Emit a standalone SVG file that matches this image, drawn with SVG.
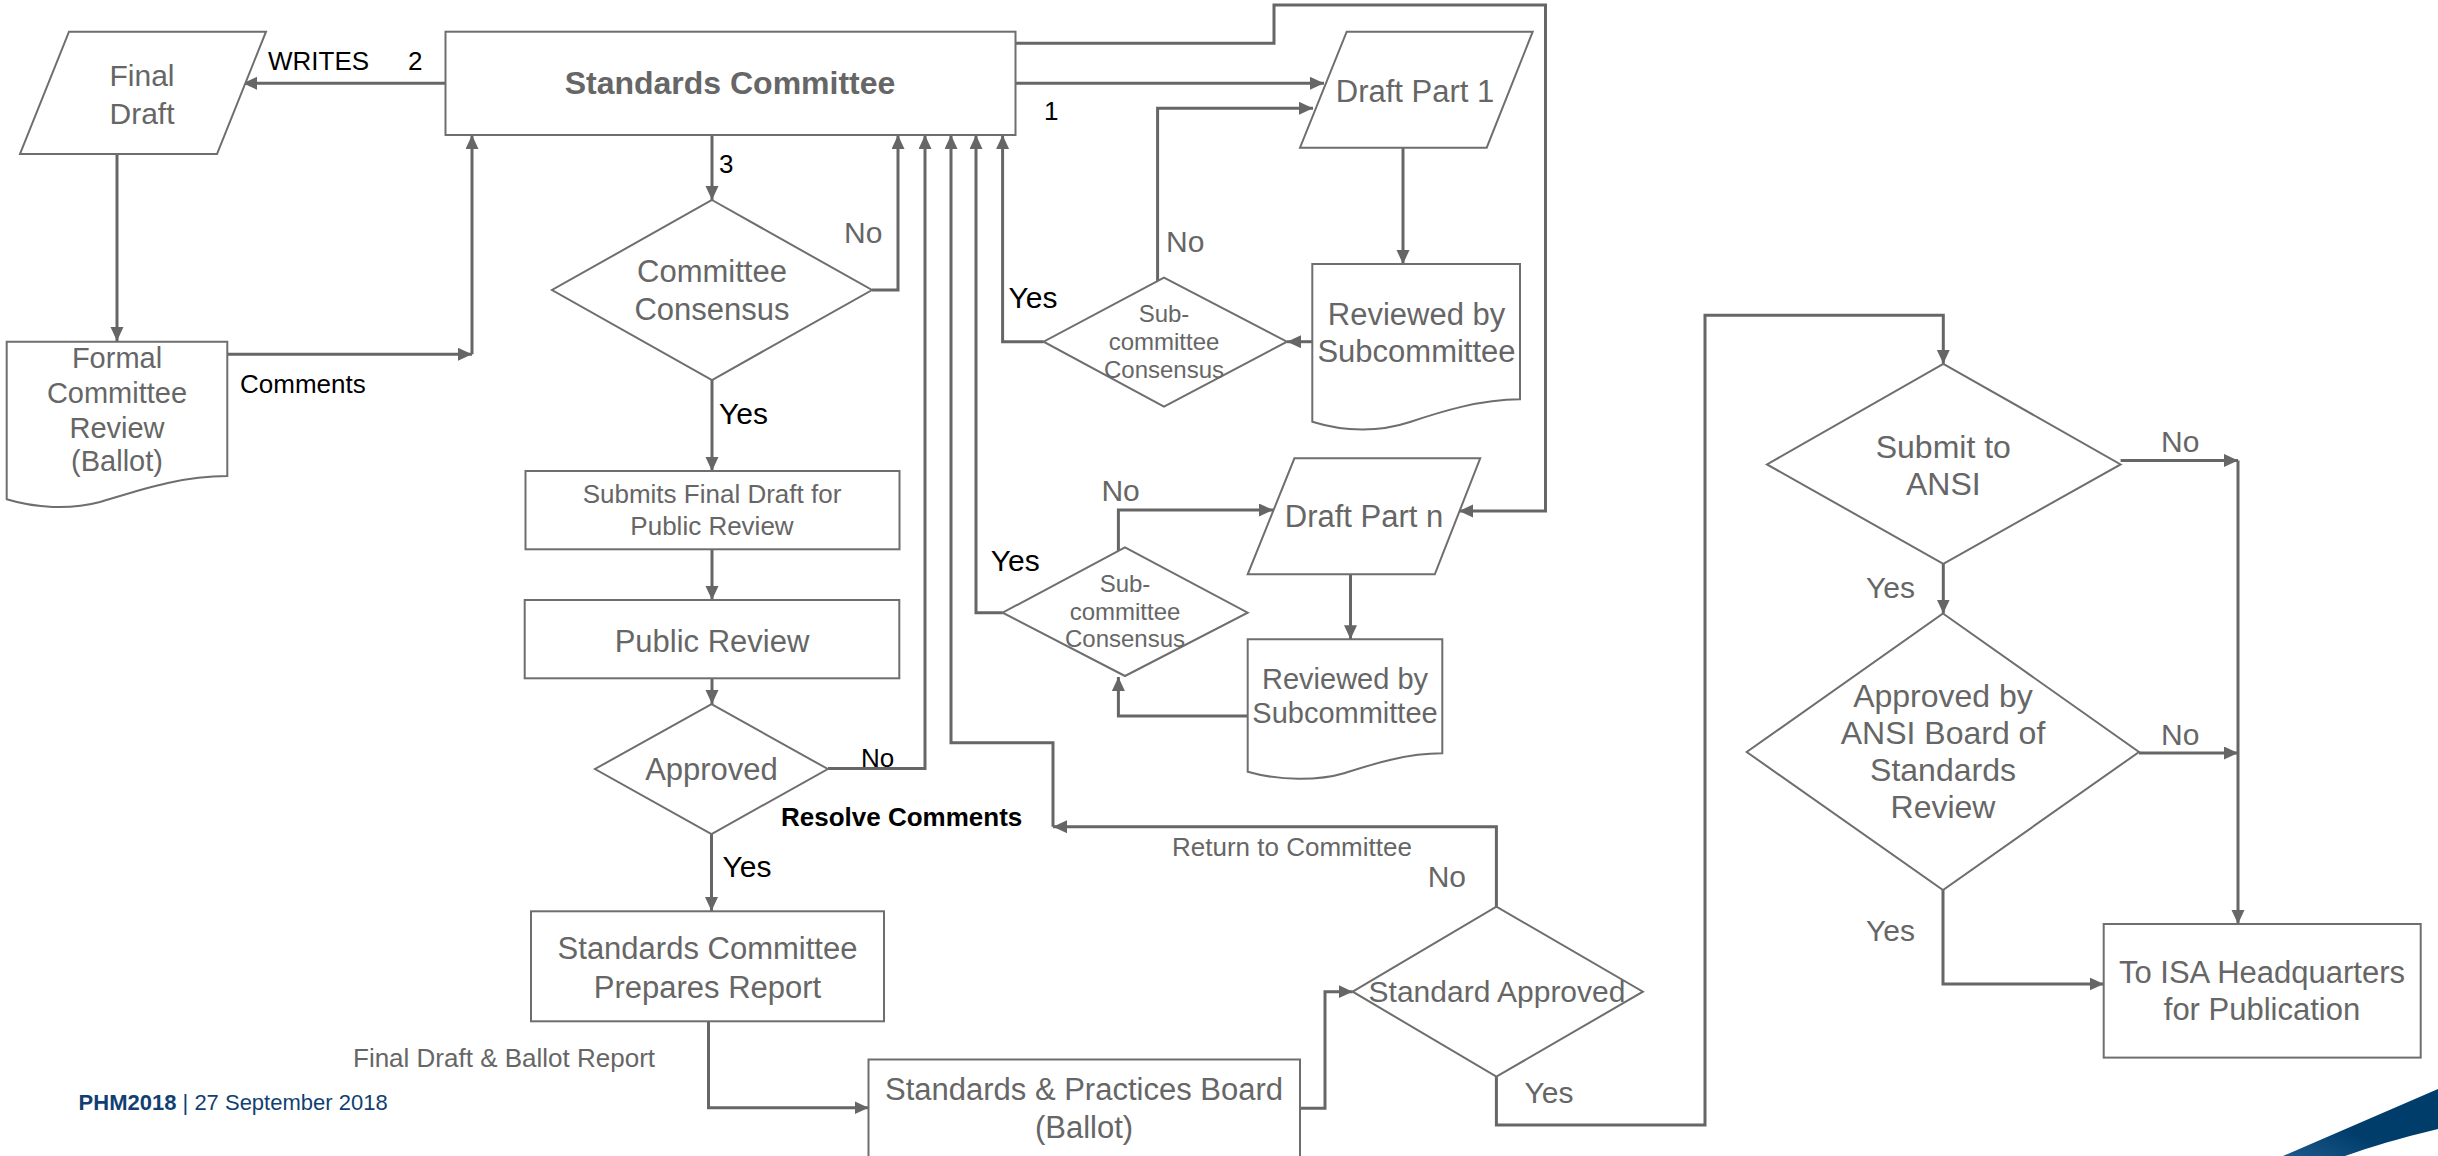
<svg xmlns="http://www.w3.org/2000/svg" width="2438" height="1156" viewBox="0 0 2438 1156">
<style>
.shape{fill:#fff;stroke:#6e6e6e;stroke-width:2}
.conn{fill:none;stroke:#666;stroke-width:3}
text{font-family:"Liberation Sans",Arial,sans-serif}
.t{fill:#666;font-size:31px;text-anchor:middle}
.ts{fill:#666;font-size:24px;text-anchor:middle}
.lb{fill:#000;font-size:26px}
.lbg{fill:#666;font-size:26px}
.yn{fill:#000;font-size:30px}
.yng{fill:#666;font-size:30px}
</style>
<defs>
<marker id="ah" markerWidth="15" markerHeight="14" refX="14" refY="6.5" orient="auto" markerUnits="userSpaceOnUse">
<path d="M0,0 L14,6.5 L0,13 z" fill="#666"/>
</marker>
<linearGradient id="sw" x1="0" y1="1" x2="1" y2="0">
<stop offset="0" stop-color="#1d5a8c"/>
<stop offset="0.4" stop-color="#003d6b"/>
<stop offset="1" stop-color="#003d6b"/>
</linearGradient>
</defs>
<rect width="2438" height="1156" fill="#fff"/>

<g id="connectors" class="conn" marker-end="url(#ah)">
<path d="M445.5,83.3 H243"/>
<path d="M1015.5,83.3 H1324"/>
<path d="M1015.5,43.3 H1274 V5 H1545.5 V511 H1459"/>
<path d="M712,135 V200"/>
<path d="M872,290 H898 V135"/>
<path d="M828,768.5 H925 V135"/>
<path d="M1053,826.7 V742.7 H951 V135"/>
<path d="M1002.6,612.7 H976 V135"/>
<path d="M1043.6,341.7 H1002.6 V135"/>
<path d="M117,154 V341"/>
<path d="M227.3,354.3 H472"/>
<path d="M472,354.3 V135"/>
<path d="M712,380 V471"/>
<path d="M712,549.3 V600"/>
<path d="M712,678.3 V704"/>
<path d="M711.5,834 V911"/>
<path d="M708.5,1021.3 V1107.8 H868.5"/>
<path d="M1300,1108.3 H1325 V991.7 H1352.7"/>
<path d="M1496.4,906.7 V826.7 H1053"/>
<path d="M1496.4,1076.7 V1125 H1705 V315.2 H1943.3 V363.8"/>
<path d="M2120.6,460.4 H2238"/>
<path d="M2238,460.4 V924"/>
<path d="M1943.3,563.8 V613.5"/>
<path d="M2139,753 H2238"/>
<path d="M1943,890 V984 H2103.7"/>
<path d="M1403,147.7 V264"/>
<path d="M1312.3,341.7 H1287"/>
<path d="M1157.6,281 V108.3 H1313"/>
<path d="M1350.5,574.3 V639.3"/>
<path d="M1247.7,716 H1118.4 V677"/>
<path d="M1118.4,551 V510 H1273"/>
</g>

<g id="final-draft">
<polygon class="shape" points="69,31.7 266,31.7 217,154 20,154"/>
<text class="t" x="142" y="86" style="font-size:30px">Final</text>
<text class="t" x="142" y="124" style="font-size:30px">Draft</text>
</g>

<g id="standards-committee">
<rect class="shape" x="445.5" y="31.7" width="570" height="103.3"/>
<text x="730" y="94" text-anchor="middle" font-weight="bold" font-size="32" fill="#666">Standards Committee</text>
</g>

<g id="formal-review">
<path class="shape" d="M6.7,341.7 H227.3 V476 C180,476 140,490 100,502 C70,510 35,508 6.7,499.3 Z"/>
<text class="t" x="117" y="368.3" style="font-size:29px">Formal</text>
<text class="t" x="117" y="403.3" style="font-size:29px">Committee</text>
<text class="t" x="117" y="438.3" style="font-size:29px">Review</text>
<text class="t" x="117" y="470.7" style="font-size:29px">(Ballot)</text>
</g>

<g id="committee-consensus">
<polygon class="shape" points="712,200 872,290 712,380 552,290"/>
<text class="t" x="712" y="281.7">Committee</text>
<text class="t" x="712" y="320">Consensus</text>
</g>

<g id="submits-final-draft">
<rect class="shape" x="525.5" y="471" width="374" height="78.3"/>
<text class="t" x="712" y="502.7" style="font-size:26px">Submits Final Draft for</text>
<text class="t" x="712" y="535" style="font-size:26px">Public Review</text>
</g>

<g id="public-review">
<rect class="shape" x="524.7" y="600" width="374.6" height="78.3"/>
<text class="t" x="712" y="652">Public Review</text>
</g>

<g id="approved">
<polygon class="shape" points="711.5,704.2 827.8,769 711.5,834 595,769"/>
<text class="t" x="711.5" y="779.7">Approved</text>
</g>

<g id="prepares-report">
<rect class="shape" x="531" y="911.3" width="353" height="110"/>
<text class="t" x="707.5" y="958.5">Standards Committee</text>
<text class="t" x="707.5" y="997.8">Prepares Report</text>
</g>

<g id="practices-board">
<rect class="shape" x="868.5" y="1059.5" width="431.5" height="110"/>
<text class="t" x="1084" y="1100">Standards &amp; Practices Board</text>
<text class="t" x="1084" y="1138.3">(Ballot)</text>
</g>

<g id="standard-approved">
<polygon class="shape" points="1352.7,991.7 1496.4,906.7 1642.9,991.7 1496.4,1076.7"/>
<text class="t" x="1497" y="1001.7" style="font-size:30px">Standard Approved</text>
</g>

<g id="draft-part-1">
<polygon class="shape" points="1346.7,31.7 1532.7,31.7 1486.7,147.7 1300,147.7"/>
<text class="t" x="1415" y="101.7">Draft Part 1</text>
</g>

<g id="reviewed-1">
<path class="shape" d="M1312.3,264 H1520 V399.3 C1480,399.3 1440,412 1410,422 C1380,432 1345,432 1312.3,421.7 Z"/>
<text class="t" x="1416.5" y="325">Reviewed by</text>
<text class="t" x="1416.5" y="361.7">Subcommittee</text>
</g>

<g id="sub-consensus-1">
<polygon class="shape" points="1164,277.7 1287,341.7 1164,406.7 1043.6,341.7"/>
<text class="ts" x="1164" y="321.7">Sub-</text>
<text class="ts" x="1164" y="350">committee</text>
<text class="ts" x="1164" y="378.3">Consensus</text>
</g>

<g id="draft-part-n">
<polygon class="shape" points="1294.4,458.3 1480.2,458.3 1434.8,574.3 1247.7,574.3"/>
<text class="t" x="1364" y="527.3">Draft Part n</text>
</g>

<g id="reviewed-n">
<path class="shape" d="M1247.7,639.3 H1442.3 V753.3 C1405,753.3 1370,765 1345,773 C1318,781 1280,781 1247.7,771.7 Z"/>
<text class="t" x="1345" y="689.3" style="font-size:29px">Reviewed by</text>
<text class="t" x="1345" y="723.3" style="font-size:29px">Subcommittee</text>
</g>

<g id="sub-consensus-n">
<polygon class="shape" points="1125,547.3 1247.7,612.7 1125,676 1002.6,612.7"/>
<text class="ts" x="1125" y="591.7">Sub-</text>
<text class="ts" x="1125" y="620">committee</text>
<text class="ts" x="1125" y="647.3">Consensus</text>
</g>

<g id="submit-ansi">
<polygon class="shape" points="1943.3,363.8 2120.6,464.4 1943.3,563.8 1767,464.4"/>
<text class="t" x="1943.3" y="457.6" style="font-size:32px">Submit to</text>
<text class="t" x="1943.3" y="495" style="font-size:32px">ANSI</text>
</g>

<g id="ansi-board">
<polygon class="shape" points="1943,613.5 2139,752 1943,890 1746.7,752"/>
<text class="t" x="1943" y="707" style="font-size:32px">Approved by</text>
<text class="t" x="1943" y="744" style="font-size:32px">ANSI Board of</text>
<text class="t" x="1943" y="781" style="font-size:32px">Standards</text>
<text class="t" x="1943" y="818" style="font-size:32px">Review</text>
</g>

<g id="isa-headquarters">
<rect class="shape" x="2103.7" y="924" width="317" height="133.6"/>
<text class="t" x="2262" y="982.8">To ISA Headquarters</text>
<text class="t" x="2262" y="1020">for Publication</text>
</g>

<g id="labels">
<text class="lb" x="268" y="70">WRITES</text>
<text class="lb" x="408" y="70">2</text>
<text class="lb" x="1044" y="120">1</text>
<text class="lb" x="719" y="173">3</text>
<text class="yng" x="844" y="243">No</text>
<text class="yn" x="719" y="424">Yes</text>
<text class="yng" x="1166" y="251.7">No</text>
<text class="yn" x="1008.5" y="308">Yes</text>
<text class="yng" x="1101.4" y="501">No</text>
<text class="yn" x="990.7" y="571">Yes</text>
<text class="lb" x="861" y="767">No</text>
<text class="lb" x="781" y="825.7" font-weight="bold">Resolve Comments</text>
<text class="yn" x="722.5" y="877">Yes</text>
<text class="lbg" x="1172" y="856">Return to Committee</text>
<text class="yng" x="1427.7" y="886.7">No</text>
<text class="yng" x="1524.6" y="1103.3">Yes</text>
<text class="lbg" x="353" y="1066.5">Final Draft &amp; Ballot Report</text>
<text class="lb" x="240" y="392.7">Comments</text>
<text class="yng" x="2161" y="452">No</text>
<text class="yng" x="1866" y="598.4">Yes</text>
<text class="yng" x="2161" y="745">No</text>
<text class="yng" x="1866" y="941">Yes</text>
</g>

<g id="footer">
<text x="78.6" y="1109.7" font-size="22" fill="#123f73"><tspan font-weight="bold">PHM2018</tspan> | 27 September 2018</text>
<path d="M2283,1156 L2438,1089 L2438,1129 C2400,1138 2370,1147 2345,1156 Z" fill="url(#sw)"/>
</g>
</svg>
